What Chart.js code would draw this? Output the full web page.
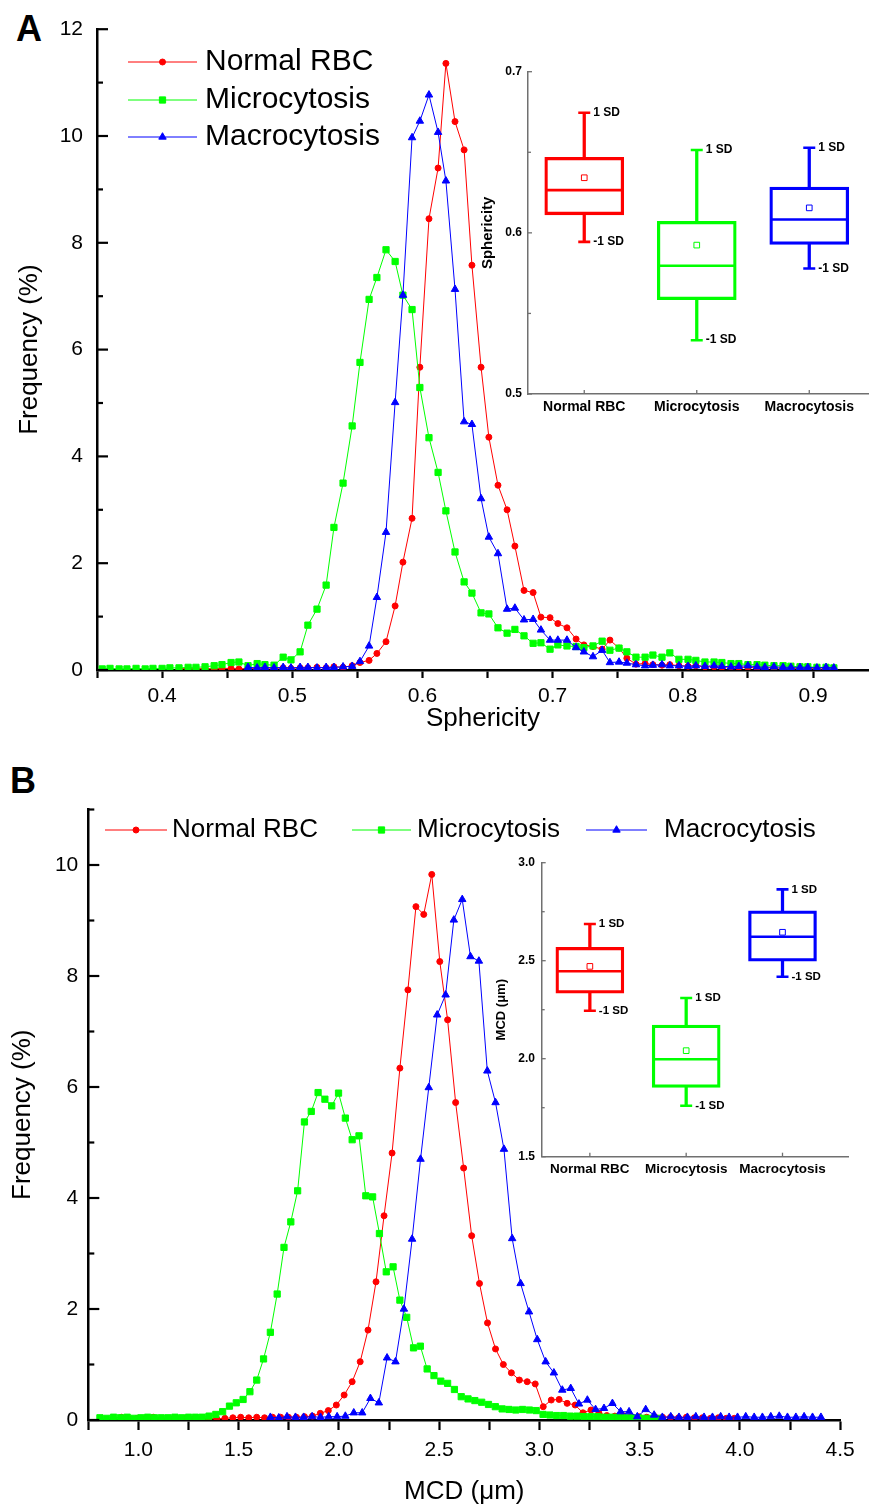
<!DOCTYPE html>
<html>
<head>
<meta charset="utf-8">
<title>RBC sphericity and MCD distributions</title>
<script src="https://cdn.jsdelivr.net/npm/chart.js@4.4.1/dist/chart.umd.min.js"></script>
<style>
  html, body { margin: 0; padding: 0; background: #fff; }
  body { position: relative; width: 869px; height: 1507px; overflow: hidden; }
  canvas { position: absolute; }
  .tag { position: absolute; font: bold 36px "Liberation Sans", Arial, sans-serif; line-height: 36px; color: #000; }
</style>
</head>
<body>
<div class="tag" style="left:16px; top:11px;">A</div>
<div class="tag" style="left:10px; top:763px;">B</div>
<canvas id="sphChart" width="869" height="745" style="left:0; top:0;"></canvas>
<canvas id="sphBox" width="399" height="370" style="left:470px; top:55px;"></canvas>
<canvas id="mcdChart" width="869" height="727" style="left:0; top:780px;"></canvas>
<canvas id="mcdBox" width="389" height="345" style="left:480px; top:845px;"></canvas>
<script>
const FONT = '"Liberation Sans", Arial, sans-serif';

const groupLabels = ['Normal RBC', 'Microcytosis', 'Macrocytosis'];
const groupColors = ['#ff0000', '#00ff00', '#0000ff'];
const groupMarkers = ['circle', 'rect', 'triangle'];

// ---- panel A: sphericity histogram ----
const sphBins = [
  0.354, 0.360, 0.367, 0.373, 0.380, 0.387, 0.393, 0.400, 0.406, 0.413,
  0.420, 0.426, 0.433, 0.440, 0.446, 0.453, 0.459, 0.466, 0.473, 0.479,
  0.486, 0.493, 0.499, 0.506, 0.512, 0.519, 0.526, 0.532, 0.539, 0.546,
  0.552, 0.559, 0.565, 0.572, 0.579, 0.585, 0.592, 0.598, 0.605, 0.612,
  0.618, 0.625, 0.632, 0.638, 0.645, 0.651, 0.658, 0.665, 0.671, 0.678,
  0.685, 0.691, 0.698, 0.704, 0.711, 0.718, 0.724, 0.731, 0.738, 0.744,
  0.751, 0.757, 0.764, 0.771, 0.777, 0.784, 0.790, 0.797, 0.804, 0.810,
  0.817, 0.824, 0.830, 0.837, 0.843, 0.850, 0.857, 0.863, 0.870, 0.877,
  0.883, 0.890, 0.896, 0.903, 0.910, 0.916
];
const sphNormal = [
  null, null, null, null, null, null, null, null, null, 0.02,
  0.03, 0.02, 0.03, 0.02, 0.03, 0.03, 0.02, 0.03, 0.03, 0.04,
  0.03, 0.04, 0.03, 0.04, 0.04, 0.05, 0.04, 0.06, 0.05, 0.08,
  0.14, 0.18, 0.31, 0.53, 1.20, 2.02, 2.84, 5.67, 8.45, 9.40,
  11.36, 10.27, 9.74, 7.58, 5.67, 4.36, 3.46, 3.00, 2.32, 1.49,
  1.45, 0.99, 0.98, 0.87, 0.79, 0.58, 0.47, 0.44, 0.39, 0.56,
  0.41, 0.22, 0.11, 0.12, 0.10, 0.09, 0.10, 0.08, 0.07, 0.08,
  0.06, 0.06, 0.05, 0.06, 0.05, 0.05, 0.04, 0.04, 0.04, 0.03,
  0.03, 0.03, 0.03, 0.02, 0.02, 0.02
];
const sphMicro = [
  0.02, 0.03, 0.02, 0.02, 0.03, 0.02, 0.03, 0.03, 0.04, 0.04,
  0.05, 0.05, 0.06, 0.08, 0.10, 0.14, 0.15, 0.08, 0.12, 0.10,
  0.09, 0.24, 0.19, 0.34, 0.84, 1.14, 1.59, 2.67, 3.50, 4.57,
  5.76, 6.94, 7.35, 7.87, 7.65, 7.02, 6.75, 5.29, 4.35, 3.70,
  2.98, 2.21, 1.65, 1.44, 1.07, 1.05, 0.79, 0.69, 0.76, 0.64,
  0.50, 0.51, 0.39, 0.47, 0.45, 0.44, 0.42, 0.45, 0.54, 0.37,
  0.41, 0.34, 0.24, 0.24, 0.28, 0.24, 0.32, 0.20, 0.20, 0.18,
  0.15, 0.15, 0.14, 0.12, 0.12, 0.10, 0.10, 0.09, 0.08, 0.08,
  0.07, 0.06, 0.06, 0.05, 0.05, 0.04
];
const sphMacro = [
  null, null, null, null, null, null, null, null, null, null,
  null, null, null, null, null, null, null, 0.05, 0.04, 0.05,
  0.04, 0.05, 0.04, 0.05, 0.05, 0.04, 0.05, 0.05, 0.06, 0.07,
  0.16, 0.45, 1.36, 2.58, 5.01, 7.02, 9.97, 10.28, 10.77, 10.07,
  9.16, 7.13, 4.65, 4.60, 3.21, 2.49, 2.18, 1.14, 1.16, 0.94,
  0.95, 0.75, 0.56, 0.56, 0.56, 0.42, 0.34, 0.25, 0.37, 0.14,
  0.15, 0.13, 0.10, 0.08, 0.09, 0.10, 0.08, 0.08, 0.07, 0.08,
  0.07, 0.08, 0.07, 0.06, 0.07, 0.08, 0.06, 0.05, 0.06, 0.05,
  0.05, 0.05, 0.05, 0.04, 0.05, 0.04
];
const sphXTicks = [0.35, 0.40, 0.45, 0.50, 0.55, 0.60, 0.65, 0.70, 0.75, 0.80, 0.85, 0.90];
const sphXLabels = [0.4, 0.5, 0.6, 0.7, 0.8, 0.9];
const sphYTicks = [0, 2, 4, 6, 8, 10, 12];
const sphYMinor = [1, 3, 5, 7, 9, 11];

// inset A: sphericity box plot (mean +/- 1 SD whiskers)
const sphBoxHigh = [0.6745, 0.6514, 0.6528];
const sphBoxQ3 = [0.6468, 0.6071, 0.6284];
const sphBoxMedian = [0.6265, 0.5796, 0.6083];
const sphBoxQ1 = [0.6112, 0.5586, 0.5928];
const sphBoxLow = [0.5944, 0.5334, 0.5779];
const sphBoxMean = [0.6342, 0.5924, 0.6155];
const sphBoxTicks = [0.5, 0.6, 0.7];
const sphBoxMinor = [0.55, 0.65];

// ---- panel B: MCD histogram ----
const mcdNormalBins = [
  0.875, 0.915, 0.954, 0.994, 1.034, 1.074, 1.113, 1.153, 1.193, 1.232,
  1.272, 1.312, 1.351, 1.391, 1.431, 1.471, 1.510, 1.550, 1.590, 1.629,
  1.669, 1.709, 1.748, 1.788, 1.828, 1.868, 1.907, 1.947, 1.987, 2.026,
  2.066, 2.106, 2.145, 2.185, 2.225, 2.265, 2.304, 2.344, 2.384, 2.423,
  2.463, 2.503, 2.542, 2.582, 2.622, 2.662, 2.701, 2.741, 2.781, 2.820,
  2.860, 2.900, 2.939, 2.979, 3.019, 3.059, 3.098, 3.138, 3.178, 3.217,
  3.257, 3.297, 3.336, 3.376, 3.416, 3.456, 3.495, 3.535, 3.575, 3.614,
  3.654, 3.694, 3.733, 3.773, 3.813, 3.853, 3.892, 3.932, 3.972
];
const mcdNormal = [
  0.03, 0.05, 0.02, 0.03, 0.02, 0.05, 0.02, 0.03, 0.02, 0.03,
  0.02, 0.02, 0.03, 0.02, 0.03, 0.04, 0.05, 0.04, 0.05, 0.04,
  0.05, 0.05, 0.05, 0.05, 0.06, 0.07, 0.12, 0.17, 0.27, 0.45,
  0.69, 1.05, 1.62, 2.49, 3.68, 4.81, 6.34, 7.75, 9.25, 9.11,
  9.83, 8.26, 7.21, 5.72, 4.54, 3.32, 2.46, 1.75, 1.28, 1.00,
  0.85, 0.72, 0.69, 0.65, 0.24, 0.36, 0.37, 0.30, 0.27, 0.13,
  0.18, 0.12, 0.08, 0.07, 0.08, 0.06, 0.06, 0.05, 0.06, 0.05,
  0.05, 0.04, 0.05, 0.04, 0.04, 0.03, 0.04, 0.03, 0.03
];
const mcdMicroBins = [
  0.808, 0.842, 0.876, 0.910, 0.944, 0.978, 1.012, 1.046, 1.080, 1.114,
  1.148, 1.182, 1.216, 1.250, 1.284, 1.318, 1.352, 1.386, 1.420, 1.454,
  1.488, 1.522, 1.556, 1.590, 1.624, 1.658, 1.692, 1.726, 1.760, 1.794,
  1.828, 1.862, 1.896, 1.930, 1.964, 1.998, 2.032, 2.066, 2.100, 2.134,
  2.168, 2.202, 2.236, 2.270, 2.304, 2.338, 2.372, 2.406, 2.440, 2.474,
  2.508, 2.542, 2.576, 2.610, 2.644, 2.678, 2.712, 2.746, 2.780, 2.814,
  2.848, 2.882, 2.916, 2.950, 2.984, 3.018, 3.052, 3.086, 3.120, 3.154,
  3.188, 3.222, 3.256, 3.290, 3.324, 3.358, 3.392, 3.426, 3.460, 3.494,
  3.528, 3.562, 3.596
];
const mcdMicro = [
  0.04, 0.03, 0.05, 0.04, 0.05, 0.03, 0.04, 0.05, 0.04, 0.04,
  0.04, 0.05, 0.04, 0.05, 0.05, 0.05, 0.07, 0.10, 0.15, 0.25,
  0.31, 0.37, 0.51, 0.72, 1.10, 1.58, 2.27, 3.11, 3.57, 4.13,
  5.37, 5.56, 5.90, 5.78, 5.66, 5.89, 5.44, 5.05, 5.12, 4.04,
  4.02, 3.36, 2.67, 2.76, 2.16, 1.85, 1.30, 1.33, 0.92, 0.80,
  0.70, 0.66, 0.55, 0.42, 0.38, 0.35, 0.32, 0.28, 0.24, 0.20,
  0.19, 0.18, 0.19, 0.18, 0.17, 0.10, 0.09, 0.08, 0.08, 0.07,
  0.07, 0.06, 0.06, 0.06, 0.05, 0.05, 0.05, 0.04, 0.04, 0.04,
  0.03, 0.03, 0.03
];
const mcdMacroBins = [
  1.658, 1.700, 1.741, 1.783, 1.824, 1.866, 1.908, 1.949, 1.991, 2.032,
  2.074, 2.116, 2.157, 2.199, 2.240, 2.282, 2.324, 2.365, 2.407, 2.448,
  2.490, 2.532, 2.573, 2.615, 2.656, 2.698, 2.740, 2.781, 2.823, 2.864,
  2.906, 2.948, 2.989, 3.031, 3.072, 3.114, 3.156, 3.197, 3.239, 3.280,
  3.322, 3.364, 3.405, 3.447, 3.488, 3.530, 3.572, 3.613, 3.655, 3.696,
  3.738, 3.780, 3.821, 3.863, 3.904, 3.946, 3.988, 4.029, 4.071, 4.112,
  4.154, 4.196, 4.237, 4.279, 4.320, 4.362, 4.404
];
const mcdMacro = [
  0.05, 0.04, 0.06, 0.05, 0.05, 0.06, 0.05, 0.06, 0.06, 0.07,
  0.13, 0.13, 0.39, 0.31, 1.12, 1.05, 2.00, 3.26, 4.70, 5.99,
  7.30, 7.66, 9.01, 9.38, 8.35, 8.27, 6.29, 5.72, 4.88, 3.27,
  2.46, 1.95, 1.45, 1.05, 0.85, 0.54, 0.57, 0.29, 0.36, 0.19,
  0.21, 0.30, 0.15, 0.15, 0.06, 0.19, 0.09, 0.05, 0.06, 0.05,
  0.05, 0.06, 0.05, 0.05, 0.06, 0.05, 0.05, 0.06, 0.05, 0.05,
  0.06, 0.07, 0.05, 0.05, 0.06, 0.05, 0.05
];
const mcdXTicks = [0.75, 1.0, 1.25, 1.5, 1.75, 2.0, 2.25, 2.5, 2.75, 3.0, 3.25, 3.5, 3.75, 4.0, 4.25, 4.5];
const mcdXLabels = [1.0, 1.5, 2.0, 2.5, 3.0, 3.5, 4.0, 4.5];
const mcdYTicks = [0, 2, 4, 6, 8, 10];
const mcdYMinor = [1, 3, 5, 7, 9, 11];

// inset B: MCD box plot
const mcdBoxHigh = [2.687, 2.310, 2.864];
const mcdBoxQ3 = [2.568, 2.172, 2.754];
const mcdBoxMedian = [2.446, 1.997, 2.622];
const mcdBoxQ1 = [2.334, 1.854, 2.497];
const mcdBoxLow = [2.245, 1.760, 2.418];
const mcdBoxMean = [2.471, 2.041, 2.645];
const mcdBoxTicks = [1.5, 2.0, 2.5, 3.0];
const mcdBoxMinor = [1.75, 2.25, 2.75];

Chart.defaults.font.family = FONT;
Chart.defaults.color = '#000';

const markerRadius = { circle: 3, rect: 4.4, triangle: 4.3 };

// tick marks pointing into the plot area (Chart.js only draws them outward)
const innerTicks = {
  id: 'innerTicks',
  afterDraw(chart, args, opts) {
    const ctx = chart.ctx;
    const area = chart.chartArea;
    (opts.items || []).forEach(item => {
      const scale = chart.scales[item.axis];
      ctx.save();
      ctx.strokeStyle = item.color;
      ctx.lineWidth = item.width;
      item.values.forEach(v => {
        const p = scale.getPixelForValue(v);
        ctx.beginPath();
        if (item.axis === 'y') {
          ctx.moveTo(area.left, p);
          ctx.lineTo(area.left + item.length, p);
        } else {
          ctx.moveTo(p, area.bottom);
          ctx.lineTo(p, area.bottom - item.length);
        }
        ctx.stroke();
      });
      ctx.restore();
    });
  }
};

// line + marker legend, like the original plot
const lineLegend = {
  id: 'lineLegend',
  afterDraw(chart, args, opts) {
    if (!opts.items) return;
    const ctx = chart.ctx;
    ctx.save();
    ctx.font = opts.font;
    ctx.textBaseline = 'middle';
    ctx.textAlign = 'left';
    chart.data.datasets.forEach((ds, i) => {
      const pos = opts.items[i];
      ctx.strokeStyle = ds.borderColor;
      ctx.fillStyle = ds.borderColor;
      ctx.lineWidth = 1;
      ctx.beginPath();
      ctx.moveTo(pos.x1, pos.y);
      ctx.lineTo(pos.x2, pos.y);
      ctx.stroke();
      Chart.helpers.drawPoint(ctx, {
        pointStyle: ds.pointStyle, radius: ds.pointRadius, rotation: 0, borderWidth: 1
      }, (pos.x1 + pos.x2) / 2, pos.y);
      ctx.fillStyle = '#000';
      ctx.fillText(ds.label, pos.tx, pos.y);
    });
    ctx.restore();
  }
};

// "1 SD" / "-1 SD" tags next to whisker caps
const sdLabels = {
  id: 'sdLabels',
  afterDatasetsDraw(chart, args, opts) {
    const ctx = chart.ctx;
    ctx.save();
    ctx.font = opts.font;
    ctx.fillStyle = '#000';
    ctx.textBaseline = 'middle';
    ctx.textAlign = 'left';
    chart.data.datasets.forEach((ds, i) => {
      if (!ds.sdLabel) return;
      chart.getDatasetMeta(i).data.forEach(el => {
        ctx.fillText(ds.sdLabel, el.x + opts.offset, el.y);
      });
    });
    ctx.restore();
  }
};

function isLabelled(list, v) {
  return list.some(l => Math.abs(l - v) < 1e-6);
}

function drawDistribution(id, cfg) {
  const datasets = cfg.series.map((s, i) => ({
    label: groupLabels[i],
    data: s.bins.map((x, k) => ({ x, y: s.values[k] })).filter(p => p.y !== null && p.y !== undefined),
    borderColor: groupColors[i],
    backgroundColor: groupColors[i],
    pointBackgroundColor: groupColors[i],
    pointBorderColor: groupColors[i],
    pointStyle: groupMarkers[i],
    pointRadius: markerRadius[groupMarkers[i]],
    pointBorderWidth: 1,
    borderWidth: 1,
    tension: 0,
    order: 3 - i
  }));

  return new Chart(document.getElementById(id), {
    type: 'line',
    data: { datasets },
    plugins: [innerTicks, lineLegend],
    options: {
      responsive: false,
      animation: false,
      devicePixelRatio: 1,
      layout: { padding: cfg.padding, autoPadding: false },
      plugins: {
        legend: { display: false },
        tooltip: { enabled: false },
        innerTicks: {
          items: [
            { axis: 'y', values: cfg.yTicks, length: 11, width: 2.2, color: '#000' },
            { axis: 'y', values: cfg.yMinor, length: 6, width: 2.2, color: '#000' }
          ]
        },
        lineLegend: cfg.legend
      },
      scales: {
        x: {
          type: 'linear',
          min: cfg.xMin,
          max: cfg.xMax,
          afterBuildTicks: s => { s.ticks = cfg.xTicks.map(v => ({ value: v })); },
          afterFit: s => { s.height = cfg.xHeight; },
          ticks: {
            autoSkip: false,
            maxRotation: 0,
            padding: cfg.xPad,
            font: { size: 21 },
            color: '#000',
            callback: v => isLabelled(cfg.xLabels, v) ? v.toFixed(1) : ''
          },
          grid: { drawOnChartArea: false, tickLength: cfg.xTickLen, tickWidth: 2.2, tickColor: '#000', color: '#000' },
          border: { display: true, color: '#000', width: 2.5 },
          // a bottom axis title is offset from the canvas edge by padding.bottom
          title: { display: true, text: cfg.xTitle, font: { size: 26 }, color: '#000', padding: { top: 0, bottom: cfg.xTitlePad } }
        },
        y: {
          min: 0,
          max: cfg.yMax,
          afterBuildTicks: s => { s.ticks = cfg.yTicks.map(v => ({ value: v })); },
          afterFit: s => { s.width = cfg.yWidth; },
          ticks: { padding: cfg.yPad, font: { size: 21 }, color: '#000', callback: v => String(v) },
          grid: { display: false, drawTicks: false },
          border: { display: true, color: '#000', width: 2.5 },
          title: { display: true, text: 'Frequency (%)', font: { size: 26 }, color: '#000', padding: { top: cfg.yTitlePad, bottom: 0 } }
        }
      }
    }
  });
}

function drawBoxInset(id, cfg) {
  const xs = groupLabels.map((_, i) => i + 1);
  const at = arr => xs.map((x, i) => ({ x, y: arr[i] }));
  const span = (lo, hi) => xs.map((x, i) => ({ x, y: [lo[i], hi[i]] }));
  const lw = 2.6;

  const datasets = [
    { type: 'scatter', data: at(cfg.mean), pointStyle: 'rect', pointRadius: 4, pointBackgroundColor: '#fff', pointBorderColor: groupColors, pointBorderWidth: 1 },
    { type: 'scatter', data: at(cfg.median), pointStyle: 'line', pointRadius: cfg.boxWidth / 2 - 1, pointBorderColor: groupColors, pointBorderWidth: lw },
    { type: 'bar', data: span(cfg.q1, cfg.q3), backgroundColor: 'rgba(255,255,255,0)', borderColor: groupColors, borderWidth: lw, borderSkipped: false, barThickness: cfg.boxWidth, grouped: false },
    { type: 'bar', data: span(cfg.q3, cfg.high), backgroundColor: groupColors, borderWidth: 0, barThickness: lw, grouped: false },
    { type: 'bar', data: span(cfg.low, cfg.q1), backgroundColor: groupColors, borderWidth: 0, barThickness: lw, grouped: false },
    { type: 'scatter', data: at(cfg.high), pointStyle: 'line', pointRadius: 6, pointBorderColor: groupColors, pointBorderWidth: lw, sdLabel: '1 SD' },
    { type: 'scatter', data: at(cfg.low), pointStyle: 'line', pointRadius: 6, pointBorderColor: groupColors, pointBorderWidth: lw, sdLabel: '-1 SD' }
  ];

  return new Chart(document.getElementById(id), {
    type: 'bar',
    data: { datasets },
    plugins: [innerTicks, sdLabels],
    options: {
      responsive: false,
      animation: false,
      devicePixelRatio: 1,
      layout: { padding: cfg.padding, autoPadding: false },
      plugins: {
        legend: { display: false },
        tooltip: { enabled: false },
        sdLabels: { font: 'bold ' + cfg.sdSize + 'px ' + FONT, offset: 9 },
        innerTicks: {
          items: [
            { axis: 'y', values: cfg.yTicks, length: 4, width: 1.3, color: '#707070' },
            { axis: 'y', values: cfg.yMinor, length: 3, width: 1.3, color: '#707070' },
            { axis: 'x', values: xs, length: 4, width: 1.3, color: '#707070' }
          ]
        }
      },
      scales: {
        x: {
          type: 'linear',
          offset: false,
          min: 0.5,
          max: cfg.xMax,
          afterBuildTicks: s => { s.ticks = xs.map(v => ({ value: v })); },
          afterFit: s => { s.height = cfg.xHeight; },
          ticks: {
            autoSkip: false,
            maxRotation: 0,
            padding: cfg.xPad,
            font: { size: cfg.catSize, weight: 'bold' },
            color: '#000',
            callback: v => groupLabels[Math.round(v) - 1]
          },
          grid: { display: false, drawTicks: false },
          border: { display: true, color: '#707070', width: 1.5 }
        },
        y: {
          min: cfg.yMin,
          max: cfg.yMax,
          afterBuildTicks: s => { s.ticks = cfg.yTicks.map(v => ({ value: v })); },
          afterFit: s => { s.width = cfg.yWidth; },
          ticks: { padding: cfg.yPad, font: { size: 12, weight: 'bold' }, color: '#000', callback: v => v.toFixed(1) },
          grid: { display: false, drawTicks: false },
          border: { display: true, color: '#707070', width: 1.5 },
          title: { display: true, text: cfg.yTitle, font: { size: cfg.titleSize, weight: 'bold' }, color: '#000', padding: { top: cfg.yTitlePad, bottom: 0 } }
        }
      }
    }
  });
}

drawDistribution('sphChart', {
  series: [
    { bins: sphBins, values: sphNormal },
    { bins: sphBins, values: sphMicro },
    { bins: sphBins, values: sphMacro }
  ],
  padding: { top: 29.2, left: 0, right: 0, bottom: 0 },
  xMin: 0.35, xMax: 0.943, xTicks: sphXTicks, xLabels: sphXLabels,
  xHeight: 75, xPad: 6, xTickLen: 8, xTitle: 'Sphericity', xTitlePad: 11,
  yMax: 12, yTicks: sphYTicks, yMinor: sphYMinor, yWidth: 97, yPad: 14, yTitlePad: 14,
  legend: {
    font: '30px ' + FONT,
    items: [
      { x1: 128, x2: 197, y: 62, tx: 205 },
      { x1: 128, x2: 197, y: 100, tx: 205 },
      { x1: 128, x2: 197, y: 137, tx: 205 }
    ]
  }
});

drawBoxInset('sphBox', {
  q1: sphBoxQ1, q3: sphBoxQ3, median: sphBoxMedian, mean: sphBoxMean, high: sphBoxHigh, low: sphBoxLow,
  padding: { top: 16.7, left: 0, right: 0, bottom: 0 },
  boxWidth: 79, xMax: 3.531, xHeight: 31, xPad: 5, catSize: 14,
  yMin: 0.5, yMax: 0.7, yTicks: sphBoxTicks, yMinor: sphBoxMinor, yWidth: 58, yPad: 6,
  yTitle: 'Sphericity', titleSize: 15, yTitlePad: 9, sdSize: 12
});

drawDistribution('mcdChart', {
  series: [
    { bins: mcdNormalBins, values: mcdNormal },
    { bins: mcdMicroBins, values: mcdMicro },
    { bins: mcdMacroBins, values: mcdMacro }
  ],
  padding: { top: 29.5, left: 0, right: 28.8, bottom: 0 },
  xMin: 0.75, xMax: 4.5, xTicks: mcdXTicks, xLabels: mcdXLabels,
  xHeight: 87, xPad: 8, xTickLen: 10, xTitle: 'MCD (\u03bcm)', xTitlePad: 0,
  yMax: 11, yTicks: mcdYTicks, yMinor: mcdYMinor, yWidth: 88.3, yPad: 10, yTitlePad: 7,
  legend: {
    font: '26px ' + FONT,
    items: [
      { x1: 105, x2: 167, y: 50, tx: 172 },
      { x1: 352, x2: 411, y: 50, tx: 417 },
      { x1: 586, x2: 647, y: 50, tx: 664 }
    ]
  }
});

drawBoxInset('mcdBox', {
  q1: mcdBoxQ1, q3: mcdBoxQ3, median: mcdBoxMedian, mean: mcdBoxMean, high: mcdBoxHigh, low: mcdBoxLow,
  padding: { top: 17.7, left: 0, right: 21, bottom: 0 },
  boxWidth: 68, xMax: 3.68, xHeight: 33.3, xPad: 4.5, catSize: 13.5,
  yMin: 1.5, yMax: 3.0, yTicks: mcdBoxTicks, yMinor: mcdBoxMinor, yWidth: 61.7, yPad: 6.7,
  yTitle: 'MCD (\u03bcm)', titleSize: 13, yTitlePad: 14, sdSize: 11.5
});
</script>
</body>
</html>
